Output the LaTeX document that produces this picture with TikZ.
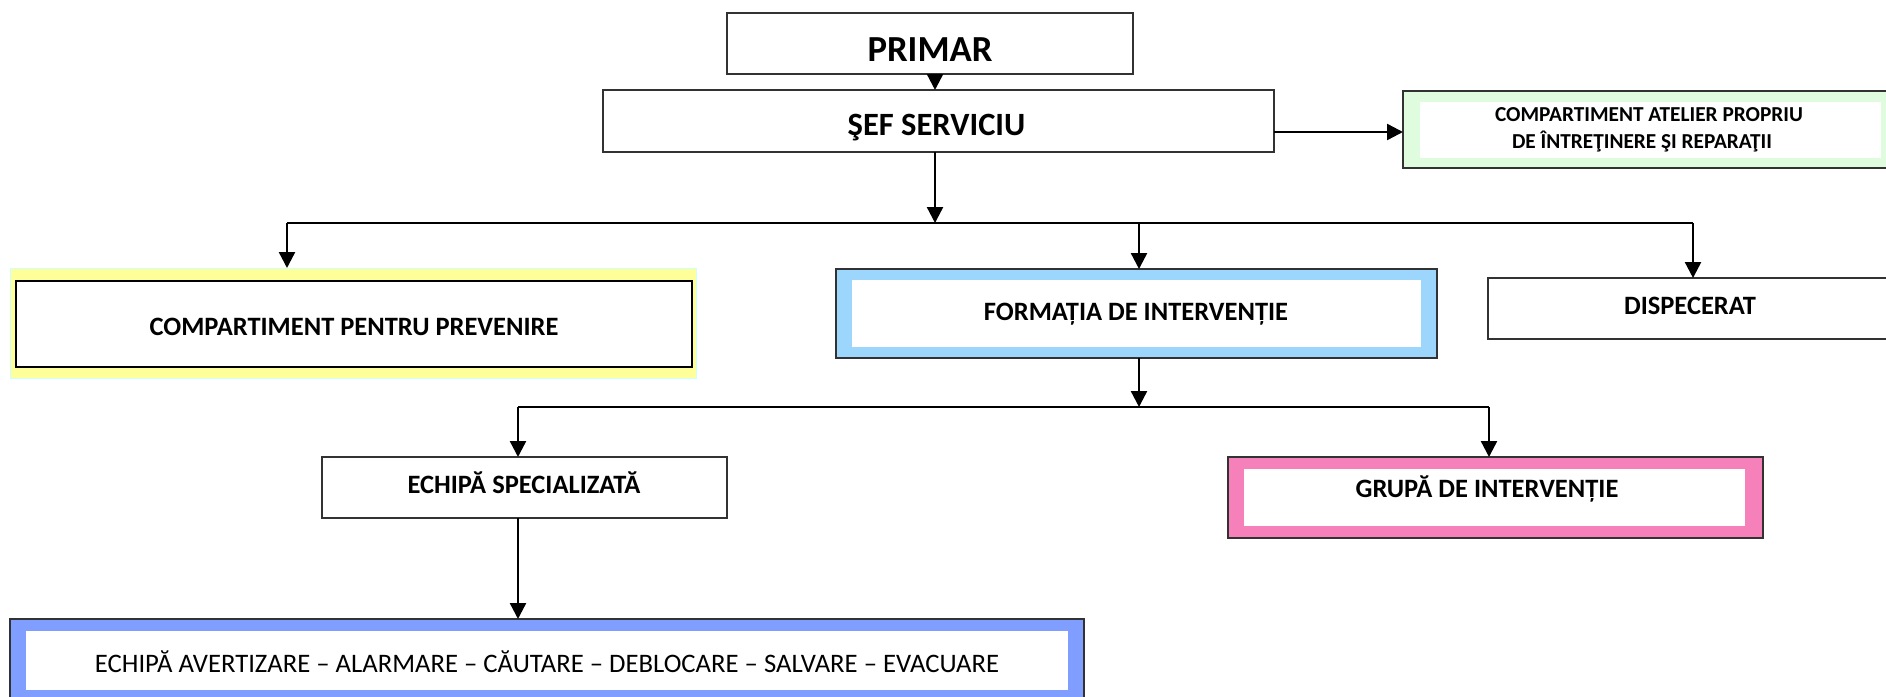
\documentclass[tikz,border=0pt]{standalone}
\usepackage{fontspec}
\setmainfont{Carlito}
\usetikzlibrary{arrows.meta}
\definecolor{yel}{RGB}{255,255,153}
\definecolor{yelrim}{RGB}{204,255,255}
\definecolor{grn}{RGB}{224,252,222}
\definecolor{lblue}{RGB}{157,214,252}
\definecolor{pink}{RGB}{246,128,186}
\definecolor{peri}{RGB}{128,158,255}
\definecolor{rim}{RGB}{50,50,50}
\newcommand\myfs[1]{\fontsize{#1}{#1}\selectfont}
\begin{document}
\begin{tikzpicture}[x=1pt,y=-1pt,
  frame/.style={draw=rim, line width=1.3pt, rectangle, inner sep=0pt, outer sep=0pt},
  inner/.style={fill=white, rectangle, inner sep=0pt, outer sep=0pt},
  conn/.style={line width=2.4pt, -{Triangle[length=16pt,width=16pt]}},
  trunk/.style={line width=2pt},
  bt/.style={anchor=base, inner sep=0pt, font=\bfseries\myfs{26.5}},
  rt/.style={anchor=base, inner sep=0pt, font=\myfs{26.7}}]
\useasboundingbox (0,0) rectangle (1886,696);
\clip (0,0) rectangle (1886,696);
\fill[white] (0,0) rectangle (1886,696);

% boxes
\node[frame, fill=white, minimum width=406pt, minimum height=61pt] (primar) at (930,43.5) {};
\node[frame, fill=white, minimum width=671pt, minimum height=62pt] (sef) at (938.5,121) {};
\node[frame, fill=grn, minimum width=484pt, minimum height=77pt] (atel) at (1645,129.5) {};
\node[inner, minimum width=461pt, minimum height=56pt] (atelin) at (1650.5,130) {};

\node[draw=yelrim, line width=0.8pt, fill=yel, rectangle, inner sep=0pt, outer sep=0pt, minimum width=686pt, minimum height=110pt] (prev) at (353,323) {};
\node[draw=black, line width=2.5pt, fill=white, rectangle, inner sep=0pt, outer sep=0pt, minimum width=676pt, minimum height=86pt] (previn) at (354,324) {};

\node[frame, fill=lblue, minimum width=601pt, minimum height=89pt] (form) at (1136.5,313.5) {};
\node[inner, minimum width=569pt, minimum height=67pt] (formin) at (1136.5,313.5) {};

\node[frame, fill=white, minimum width=402pt, minimum height=61pt] (disp) at (1689,308.5) {};

\node[frame, fill=white, minimum width=405pt, minimum height=61pt] (spec) at (524.5,487.5) {};

\node[frame, fill=pink, minimum width=535pt, minimum height=81pt] (grupa) at (1495.5,497.5) {};
\node[inner, minimum width=501pt, minimum height=57pt] (grupain) at (1494.5,497.5) {};

\node[frame, fill=peri, minimum width=1074pt, minimum height=90pt] (aver) at (547,664) {};
\node[inner, minimum width=1042pt, minimum height=59pt] (averin) at (547,660.5) {};

% texts
\node[bt, font=\bfseries\myfs{36.7}] (tprimar) at (930,61) {PRIMAR};
\node[bt, font=\bfseries\myfs{32.5}] (tsef) at (936.5,135) {ŞEF SERVICIU};
\node[bt, font=\bfseries\myfs{21.3}] (tatel1) at (1649,121.7) {COMPARTIMENT ATELIER PROPRIU};
\node[bt, font=\bfseries\myfs{21.3}] (tatel2) at (1642,148) {DE ÎNTREŢINERE ŞI REPARAŢII};
\node[bt] (tprev) at (354,335) {COMPARTIMENT PENTRU PREVENIRE};
\node[bt] (tform) at (1136,320.7) {FORMAȚIA DE INTERVENȚIE};
\node[bt] (tdisp) at (1690,314) {DISPECERAT};
\node[bt] (tspec) at (524,493) {ECHIPĂ SPECIALIZATĂ};
\node[bt] (tgrupa) at (1487,497) {GRUPĂ DE INTERVENȚIE};
\node[rt] (taver) at (547,672.7) {ECHIPĂ AVERTIZARE – ALARMARE – CĂUTARE – DEBLOCARE – SALVARE – EVACUARE};

% connectors
\coordinate (j1) at (935,223);
\coordinate (a1) at (287,223);
\coordinate (a2) at (1139,223);
\coordinate (a3) at (1693,223);
\coordinate (b0) at (1139,407);
\coordinate (b1) at (518,407);
\coordinate (b2) at (1489,407);

\draw[conn] (primar.south -| j1) -- (sef.north -| j1);
\draw[conn] ([yshift=-11pt]sef.east) -- ([yshift=-11pt]sef.east -| atel.west);
\draw[conn] (sef.south -| j1) -- (j1);
\draw[trunk] (a1) -- (a3);
\draw[conn] (a1) -- (a1 |- prev.north);
\draw[conn] (a2) -- (a2 |- form.north);
\draw[conn] (a3) -- (a3 |- disp.north);
\draw[conn] (form.south -| b0) -- (b0);
\draw[trunk] (b1) -- (b2);
\draw[conn] (b1) -- (b1 |- spec.north);
\draw[conn] (b2) -- (b2 |- grupa.north);
\draw[conn] (spec.south -| b1) -- (b1 |- aver.north);
\end{tikzpicture}
\end{document}
